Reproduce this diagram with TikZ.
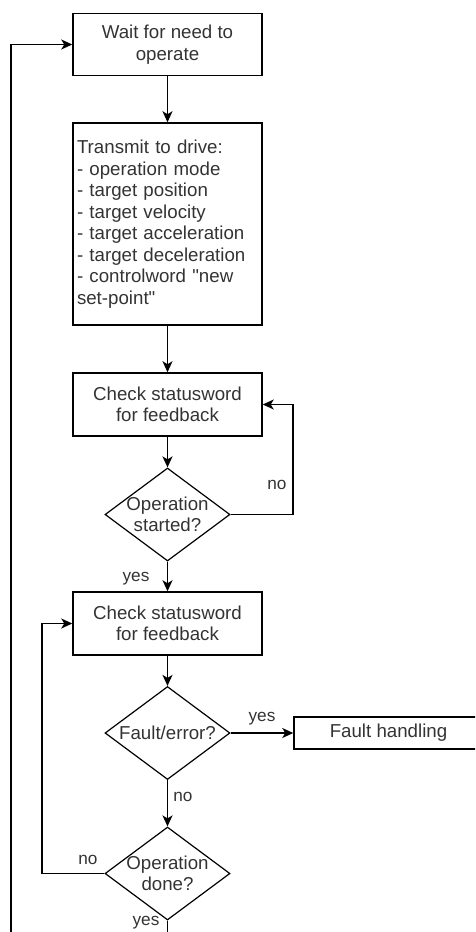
\documentclass[tikz,border=0pt]{standalone}
\usepackage{fontspec}
\setmainfont{Liberation Sans}
\usetikzlibrary{arrows.meta, calc, shapes.geometric}

\begin{document}
\begin{tikzpicture}[
    x=1pt, y=-1pt, % one unit = one pixel of the sketch, y pointing down
    >={Stealth[length=11pt, width=10pt, inset=3pt]}, % default arrow tip
    arrowstyle/.style={->, line width=1.5pt}, % style for connectors
    stepbox/.style={draw, line width=1.5pt, minimum width=189pt, text=black!80,
        font=\fontsize{18.7}{21.5}\selectfont, align=center, inner sep=0pt},
    decision/.style={draw, diamond, line width=1.2pt, minimum width=125pt,
        minimum height=93pt, inner sep=0pt, aspect=1.34},
    decisiontext/.style={text=black!80, font=\fontsize{18.7}{21.5}\selectfont, align=center},
    answer/.style={text=black!80, font=\fontsize{17.2}{20}\selectfont, inner sep=0pt}
]

    % Visible part of the sketch
    \clip (0,0) rectangle (475,932);

    % Main column of steps
    \node[stepbox, minimum height=62pt] (wait) at (167.5,44.5) {Wait for need to\\operate};
    \node[stepbox, minimum height=202pt, text width=181pt, inner xsep=4pt, align=left]
        (transmit) at (167.5,224) {Transmit to drive:\\- operation mode\\- target position\\- target velocity\\- target acceleration\\- target deceleration\\- controlword \textquotedbl new\\set-point\textquotedbl};
    \node[stepbox, minimum height=63pt] (check_A) at (167.5,404.5) {Check statusword\\for feedback};
    \node[decision] (started) at (167.5,514.5) {};
    \node[decisiontext] (started_TXT) at (started.center) {Operation\\started?};
    \node[stepbox, minimum height=63pt] (check_B) at (167.5,623.5) {Check statusword\\for feedback};
    \node[decision] (fault) at (167.5,733) {};
    \node[decisiontext] (fault_TXT) at (fault.center) {Fault/error?};
    \node[stepbox, minimum height=32pt] (handling) at (388.5,733) {Fault handling};
    \node[decision] (done) at (167.5,873.5) {};
    \node[decisiontext] (done_TXT) at (done.center) {Operation\\done?};

    % Corners of the loops
    \coordinate (loop_RIGHT) at (293,514.5);
    \coordinate (loop_LEFT) at (42,873.5);
    \coordinate (loop_BOTTOM) at (11,960);

    % Straight flow
    \draw[arrowstyle] (wait) -- (transmit);
    \draw[arrowstyle] (transmit) -- (check_A);
    \draw[arrowstyle] (check_A) -- (started);
    \draw[arrowstyle] (started) -- (check_B);
    \draw[arrowstyle] (check_B) -- (fault);
    \draw[arrowstyle] (fault) -- (handling);
    \draw[arrowstyle] (fault) -- (done);

    % Loops back
    \draw[arrowstyle] (started.east) -- (loop_RIGHT) |- (check_A.east);
    \draw[arrowstyle] (done.west) -- (loop_LEFT) |- (check_B.west);
    \draw[arrowstyle] (done.south) |- (loop_BOTTOM) |- (wait.west);

    % Answers
    \node[answer] (no_A) at (277,485) {no};
    \node[answer] (yes_A) at (136,579) {yes};
    \node[answer] (yes_B) at (262,719) {yes};
    \node[answer] (no_B) at (183,797) {no};
    \node[answer] (no_C) at (88,860) {no};
    \node[answer] (yes_C) at (146,923) {yes};

\end{tikzpicture}
\end{document}
